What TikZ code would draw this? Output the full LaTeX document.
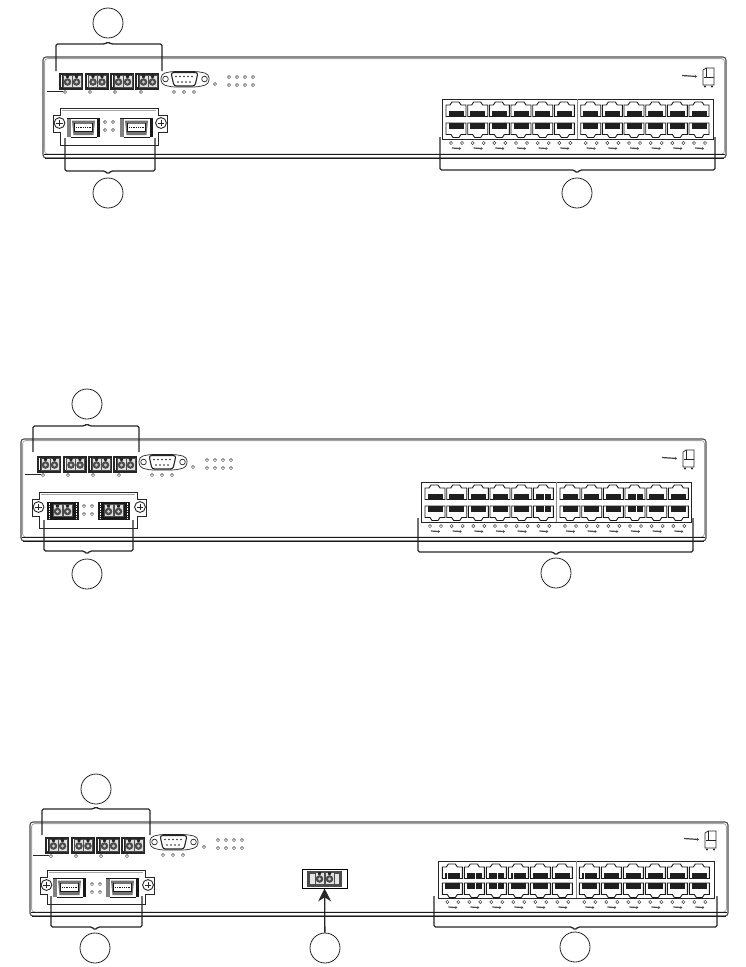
\documentclass[tikz,border=0pt]{standalone}
\usetikzlibrary{arrows.meta}
\tikzset{
  hw/.style={draw=black!85, line width=.7pt},
  led/.style={draw=black!75, fill=white, line width=.5pt},
  brk/.style={draw=black!85, line width=1.3pt, rounded corners=1.5pt},
  callout/.style={circle, draw=black!85, line width=.8pt, minimum size=30pt, inner sep=0pt}
}
\newcommand{\chassis}[4]{
  \draw [black!70, line width=1.1pt, rounded corners=3pt] (#1,#4) -- (#1,#2) -- (#3,#2) -- (#3,#4) -- cycle;
  \draw [black!35, line width=.8pt, rounded corners=3pt] (#1+1.6,#4-4) -- (#1+1.6,#2+1.6) -- (#3-1.6,#2+1.6) -- (#3-1.6,#4-4) -- cycle;
  \draw [black!90, line width=.9pt] (#1+1,#4-4) -- (#3-1,#4-4);
  \draw [black!90, line width=1pt] (#1+2,#4) -- (#3-2,#4);
}
\newcommand{\led}[2]{\draw [led] (#1,#2) circle (1.6pt);}
\newcommand{\fibercell}[2]{
  \fill [black!12] (#1,#2) rectangle +(9,12);
  \draw [black!70, line width=.4pt] (#1,#2) rectangle +(9,12);
  \fill [black!70] (#1+4.5,#2+7) circle (3.8pt);
  \fill [black!20] (#1+4.5,#2+7) circle (1.7pt);
  \fill [black!85] (#1+2.6,#2) -- (#1+6.4,#2) -- (#1+5.6,#2+3) -- (#1+3.4,#2+3) -- cycle;
}
\newcommand{\termblock}[1]{
  \fill [black!85] (#1,72.5) rectangle +(24,17);
  \draw [white, line width=.6pt] (#1+2.5,75) -- +(0,12);
  \fibercell{#1+4}{75}
  \fibercell{#1+13}{75}
}
\newcommand{\termblocks}{
  \foreach \tx in {59,84.5,110,135} {\termblock{\tx}}
  \draw [black!85, line width=.7pt] (47,91) -- (63,91);
  \foreach \tx in {65,90,115,141} {\led{\tx}{92}}
}
\newcommand{\dsubport}{
  \draw [hw, fill=white, rounded corners=4pt] (161,74) -- (171,71.5) -- (198,71.5) -- (209,74) -- (209,84) -- (198,87) -- (171,87) -- (161,84) -- cycle;
  \draw [hw, fill=white, line width=1.1pt, rounded corners=2.5pt] (171,72.5) -- (198,72.5) -- (195,86) -- (174,86) -- cycle;
  \draw [hw] (165.5,79) circle (2.8pt);
  \draw [hw] (204.5,79) circle (2.8pt);
  \foreach \dx in {176,180,184,188,192} {\fill [black!85] (\dx,76.5) circle (.8pt);}
  \foreach \dx in {178,182,186,190} {\fill [black!85] (\dx,82) circle (.8pt);}
  \foreach \dx in {174,184,194} {\led{\dx}{92}}
  \led{215}{84}
  \foreach \dx in {229,237,245,253} {\led{\dx}{77} \led{\dx}{85}}
}
\newcommand{\screw}[2]{
  \draw [hw, fill=white, line width=.9pt] (#1,#2) circle (5.4pt);
  \draw [black!85, line width=.9pt] (#1-3.2,#2) -- (#1+3.2,#2) (#1,#2-3.2) -- (#1,#2+3.2);
}
\newcommand{\modframe}[1]{
  \draw [hw, fill=white, line width=.8pt] (60,108) -- (158,108) -- (158,115) -- (167,115) -- (167,132) -- (158,132) -- (158,#1) -- (60,#1) -- (60,132) -- (53,132) -- (53,115) -- (60,115) -- cycle;
  \draw [black!35, line width=.7pt] (62,110) -- (156,110);
  \screw{59.5}{123}
  \screw{161}{123}
  \foreach \mx in {105,113} {\led{\mx}{122} \led{\mx}{130}}
}
\newcommand{\sfpslot}[1]{
  \fill [black!50] (#1,118) rectangle +(3.5,19);
  \fill [black!90] (#1+30,118) rectangle +(3,19);
  \draw [black!90, line width=.7pt] (#1,118.3) -- +(33,0);
  \draw [black!90, line width=.7pt] (#1+3.5,137) -- +(26,0);
  \fill [black!55] (#1+5,120.5) -- (#1+28,120.5) -- (#1+26.5,135) -- (#1+6.5,135) -- cycle;
  \fill [white] (#1+7.5,124) rectangle +(18,7);
  \draw [black!90, line width=.7pt] (#1+7.5,122.5) -- (#1+7.5,131) -- (#1+25.5,131) -- (#1+25.5,122.5);
  \draw [black!90, line width=1pt, dash pattern=on .8pt off 1pt] (#1+9,127.5) -- +(15,0);
}
\newcommand{\fiberslot}[1]{
  \fill [black!90] (#1,118) rectangle +(32,18);
  \draw [white, line width=.7pt, dash pattern=on 1.5pt off 1pt] (#1+2.5,119) -- +(0,16) (#1+29.5,119) -- +(0,16);
  \fibercell{#1+6}{120.5}
  \fibercell{#1+16}{120.5}
}
\newcommand{\rjupper}[2]{
  \draw [black!90, line width=.9pt] (#1,#2+15) -- (#1,#2+3.5) -- (#1+4,#2+3.5) -- (#1+6,#2+.5) -- (#1+13,#2+.5) -- (#1+15,#2+3.5) -- (#1+20,#2+3.5) -- (#1+20,#2+15) -- cycle;
  \fill [black!88] (#1+2.5,#2+9.5) rectangle +(15,5.5);
}
\newcommand{\rjlower}[2]{
  \draw [black!90, line width=.9pt] (#1,#2) -- (#1,#2+11.5) -- (#1+5,#2+11.5) -- (#1+7,#2+14.5) -- (#1+13,#2+14.5) -- (#1+15,#2+11.5) -- (#1+20,#2+11.5) -- (#1+20,#2) -- cycle;
  \fill [black!88] (#1+2.5,#2) rectangle +(15,5.5);
}
\newcommand{\rjbank}[8]{
  \draw [hw, fill=white] (#1,#3) rectangle (#2,#4);
  \draw [black!45, line width=.9pt] (#1/2+#2/2,#3) -- (#1/2+#2/2,#4);
  \foreach \px in {#5} {
    \rjupper{\px}{#3+2.5}
    \rjlower{\px}{#3+#6}
    \led{\px+5}{#4+4}
    \led{\px+16}{#4+4}
    \draw [black!70, line width=1.2pt, -{Stealth[length=2pt,width=3pt]}] (\px+6,#4+9) -- (\px+15,#4+9.6);
  }
  \foreach \sx in {#7} {
    \draw [white, line width=.8pt] (\sx+11,#3+2.5+9.5) -- +(0,5.5);
    \draw [white, line width=.8pt] (\sx+11,#3+#6) -- +(0,5.5);
  }
  \foreach \sx in {#8} {
    \draw [white, line width=.8pt] (\sx+5,#3+2.5+9.5) -- +(0,5.5);
  }
}
\newcommand{\fanicon}{
  \draw [black!75, line width=1.2pt, -{Stealth[length=2pt,width=3pt]}] (682,75.5) -- (697,76.5);
  \draw [hw] (703,70) -- (706,68) -- (714,68) -- (714,85) -- (703,85) -- cycle;
  \draw [hw] (706,68) -- (706,77) -- (714,77) (704,77) -- (706,77);
  \fill [black!85] (705,86.5) circle (1.1pt) (712,86.5) circle (1.1pt);
}
\newcommand{\bracedown}[7]{
  \coordinate (#1a) at (#2,#4);
  \coordinate (#1b) at (#3,#4);
  \draw [brk] (#1a) -- (#2,#5) -- (#6-3,#5) -- (#6,#7) -- (#6+3,#5) -- (#3,#5) -- (#1b);
}
\begin{document}
\begin{tikzpicture}[x=1pt,y=-1pt]
  \useasboundingbox [fill=white] (0,0) rectangle (745,967);

  \chassis{43}{57}{726}{158}
  \termblocks
  \dsubport
  \modframe{145}
  \sfpslot{67}
  \sfpslot{120}
  \fanicon
  \rjbank{442}{713}{99}{139}{446,467.7,489.3,511,532.7,554.3,580.7,602.3,624,645.7,667.3,689}{24}{}{}
  \node [callout] (topA) at (108,23) {};
  \node [callout] (modA) at (108,193) {};
  \node [callout] (rjA) at (577,193) {};
  \bracedown{bt}{56}{162}{71}{44}{108}{42}
  \bracedown{bm}{65}{155}{138}{171}{108}{174}
  \bracedown{br}{440}{715}{137}{170}{577}{173}

  \chassis{21}{439}{706}{541}
  \begin{scope}[shift={(-22,383)}]
    \termblocks
    \dsubport
  \end{scope}
  \begin{scope}[shift={(-21,384)}]
    \modframe{144}
    \fiberslot{68}
    \fiberslot{119}
  \end{scope}
  \begin{scope}[shift={(-20,382)}]
    \fanicon
  \end{scope}
  \rjbank{421}{691}{482}{522}{425,446.7,468.3,490,511.7,533.3,560,581.7,603.3,625,646.7,668.3}{24}{533.3,625}{}
  \node [callout] (topB) at (87,404) {};
  \node [callout] (modB) at (87,574) {};
  \node [callout] (rjB) at (556,573) {};
  \bracedown{ct}{33}{139}{452}{426}{87}{424}
  \bracedown{cm}{44}{133}{520}{551}{87}{554}
  \bracedown{cr}{418}{693}{518}{552}{556}{555}

  \chassis{30}{822}{728}{916}
  \begin{scope}[shift={(-14,764)}]
    \termblocks
  \end{scope}
  \begin{scope}[shift={(-11,763)}]
    \dsubport
  \end{scope}
  \begin{scope}[shift={(-13,762)}]
    \modframe{142}
  \end{scope}
  \begin{scope}[shift={(-14,760)}]
    \sfpslot{67}
    \sfpslot{120}
  \end{scope}
  \begin{scope}[shift={(2,763)}]
    \fanicon
  \end{scope}
  \rjbank{438}{714}{861}{898}{442.3,464.3,486.3,508.3,530.3,552.3,579.3,601.3,623.3,645.3,667.3,689.3}{22}{464.3,486.3}{442.3,508.3,579.3}
  \node [draw=black, fill=white, line width=.9pt, minimum width=45pt, minimum height=19pt, inner sep=0pt] (fiberC) at (324.5,878.5) {};
  \fill [black!70] (307,870.5) rectangle (342,886.5);
  \fill [black!10] (310,874) rectangle (339,883.5);
  \fibercell{315}{872}
  \fibercell{325}{872}
  \node [callout] (topC) at (96,789) {};
  \node [callout] (modC) at (95,948) {};
  \node [callout] (midC) at (325,948) {};
  \node [callout] (rjC) at (575,947) {};
  \draw [black!85, line width=1.3pt, -{Stealth[length=13pt,width=13pt]}] (midC) -- (fiberC);
  \bracedown{dt}{42}{150}{835}{809}{96}{807}
  \bracedown{dm}{51}{142}{896}{927}{95}{930}
  \bracedown{dr}{434}{717}{896}{927}{575}{930}
\end{tikzpicture}
\end{document}
